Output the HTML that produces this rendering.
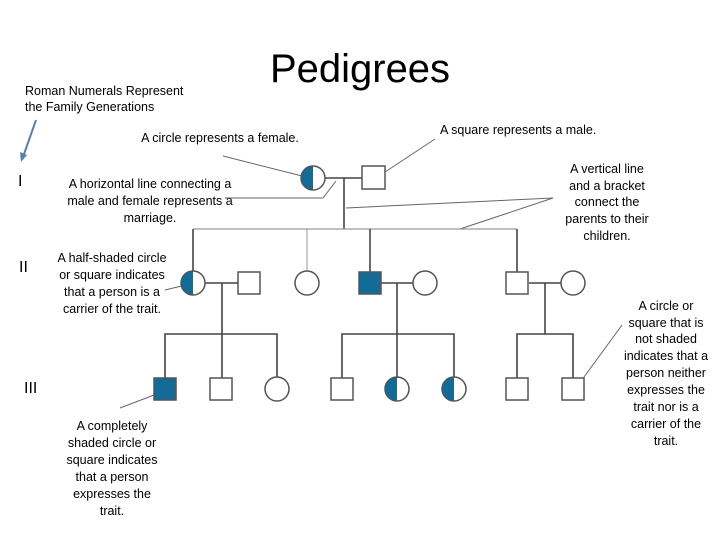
<!DOCTYPE html>
<html><head><meta charset="utf-8"><style>
html,body{margin:0;padding:0;background:#fff;}
svg{display:block;}
text{font-family:"Liberation Sans Narrow","Liberation Sans",sans-serif;font-size:12.5px;fill:#000;}
.c{text-anchor:middle;}
</style></head><body>
<svg width="720" height="540" viewBox="0 0 720 540" xmlns="http://www.w3.org/2000/svg">
<defs>
<clipPath id="lh"><rect x="0" y="0" width="0" height="0"/></clipPath>
</defs>
<text x="360" y="82" class="c" style="font-family:'Liberation Sans',sans-serif;font-size:40px">Pedigrees</text>
<text x="25" y="95">Roman Numerals Represent</text>
<text x="25" y="111">the Family Generations</text>
<line x1="36" y1="120" x2="23" y2="157" stroke="#5a7fa8" stroke-width="2"/>
<polygon points="21,162 20,152 27,155" fill="#5a7fa8"/>
<text x="18" y="186" style="font-size:16px">I</text>
<text x="19" y="272" style="font-size:16px">II</text>
<text x="24" y="393" style="font-size:16px">III</text>

<text x="220" y="142" class="c">A circle represents a female.</text>
<text x="440" y="134">A square represents a male.</text>
<g class="c">
<text x="150" y="188" class="c">A horizontal line connecting a</text>
<text x="150" y="205" class="c">male and female represents a</text>
<text x="150" y="222" class="c">marriage.</text>
<text x="607" y="173" class="c">A vertical line</text>
<text x="607" y="190" class="c">and a bracket</text>
<text x="607" y="206" class="c">connect the</text>
<text x="607" y="223" class="c">parents to their</text>
<text x="607" y="240" class="c">children.</text>
<text x="112" y="262" class="c">A half-shaded circle</text>
<text x="112" y="279" class="c">or square indicates</text>
<text x="112" y="296" class="c">that a person is a</text>
<text x="112" y="313" class="c">carrier of the trait.</text>
<text x="112" y="430" class="c">A completely</text>
<text x="112" y="447" class="c">shaded circle or</text>
<text x="112" y="464" class="c">square indicates</text>
<text x="112" y="481" class="c">that a person</text>
<text x="112" y="498" class="c">expresses the</text>
<text x="112" y="515" class="c">trait.</text>
<text x="666" y="310" class="c">A circle or</text>
<text x="666" y="327" class="c">square that is</text>
<text x="666" y="343" class="c">not shaded</text>
<text x="666" y="360" class="c">indicates that a</text>
<text x="666" y="377" class="c">person neither</text>
<text x="666" y="394" class="c">expresses the</text>
<text x="666" y="411" class="c">trait nor is a</text>
<text x="666" y="428" class="c">carrier of the</text>
<text x="666" y="445" class="c">trait.</text>
</g>

<!-- pointer lines -->
<g stroke="#666" stroke-width="1" fill="none">
<line x1="225" y1="211" x2="225" y2="211"/>
<line x1="223" y1="156" x2="310" y2="178"/>
<polyline points="336,181 323,198 225,198"/>
<line x1="435" y1="139" x2="376" y2="178"/>
<line x1="553" y1="198" x2="346" y2="208"/>
<line x1="553" y1="198" x2="460" y2="229"/>
<line x1="165" y1="290" x2="190" y2="284"/>
<line x1="120" y1="408" x2="162" y2="392"/>
<line x1="622" y1="325" x2="576" y2="388"/>
</g>

<!-- connectors -->
<g stroke="#444" stroke-width="1.6" fill="none">
<line x1="325" y1="178" x2="362" y2="178"/>
<line x1="344" y1="178" x2="344" y2="229"/>
<line x1="193" y1="229" x2="517" y2="229" stroke="#999" stroke-width="1.2"/>
<line x1="193" y1="229" x2="193" y2="271"/>
<line x1="307" y1="229" x2="307" y2="271" stroke="#999" stroke-width="1"/>
<line x1="370" y1="229" x2="370" y2="272"/>
<line x1="517" y1="229" x2="517" y2="272"/>
<line x1="205" y1="283" x2="238" y2="283"/>
<line x1="381" y1="283" x2="413" y2="283"/>
<line x1="529" y1="283" x2="561" y2="283"/>
<line x1="222" y1="283" x2="222" y2="378"/>
<line x1="397" y1="283" x2="397" y2="378"/>
<line x1="545" y1="283" x2="545" y2="334"/>
<polyline points="165,378 165,334 277,334 277,377"/>
<polyline points="342,378 342,334 454,334 454,377"/>
<polyline points="517,378 517,334 573,334 573,378"/>
</g>

<!-- nodes -->
<g stroke="#555" stroke-width="1.5">
<!-- gen I -->
<path d="M313,166 A12,12 0 0 0 313,190 Z" fill="#136b98" stroke="none"/>
<circle cx="313" cy="178" r="12" fill="none"/>
<rect x="362" y="166" width="23" height="23" fill="#fff"/>
<!-- gen II -->
<path d="M193,271 A12,12 0 0 0 193,295 Z" fill="#136b98" stroke="none"/>
<circle cx="193" cy="283" r="12" fill="none"/>
<rect x="238" y="272" width="22" height="22" fill="#fff"/>
<circle cx="307" cy="283" r="12" fill="#fff"/>
<rect x="359" y="272" width="22" height="22" fill="#136b98"/>
<circle cx="425" cy="283" r="12" fill="#fff"/>
<rect x="506" y="272" width="22" height="22" fill="#fff"/>
<circle cx="573" cy="283" r="12" fill="#fff"/>
<!-- gen III -->
<rect x="154" y="378" width="22" height="22" fill="#136b98"/>
<rect x="210" y="378" width="22" height="22" fill="#fff"/>
<circle cx="277" cy="389" r="12" fill="#fff"/>
<rect x="331" y="378" width="22" height="22" fill="#fff"/>
<path d="M397,377 A12,12 0 0 0 397,401 Z" fill="#136b98" stroke="none"/>
<circle cx="397" cy="389" r="12" fill="none"/>
<path d="M454,377 A12,12 0 0 0 454,401 Z" fill="#136b98" stroke="none"/>
<circle cx="454" cy="389" r="12" fill="none"/>
<rect x="506" y="378" width="22" height="22" fill="#fff"/>
<rect x="562" y="378" width="22" height="22" fill="#fff"/>
</g>
</svg>
</body></html>
